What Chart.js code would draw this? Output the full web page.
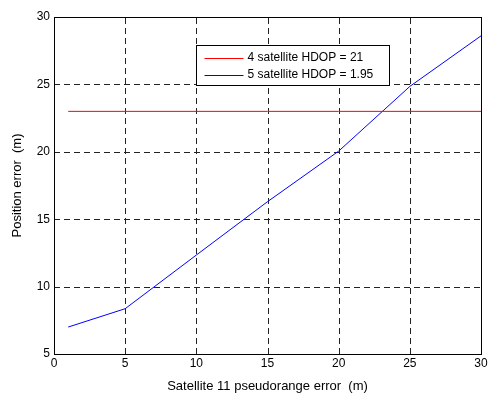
<!DOCTYPE html>
<html>
<head>
<meta charset="utf-8">
<script src="https://cdn.jsdelivr.net/npm/chart.js@4/dist/chart.umd.min.js"></script>
<style>
  html, body { margin: 0; padding: 0; background: #fff; }
  #wrap { width: 491px; height: 394px; position: relative; }
</style>
</head>
<body>
<div id="wrap"><canvas id="c" width="491" height="394"></canvas></div>
<script>
const pseudorangeError = [1, 5, 10, 15, 20, 25, 30];
const fourSatError = [23, 23, 23, 23, 23, 23, 23];
const fiveSatError = [7.0, 8.36, 12.34, 16.3, 20.05, 24.85, 28.6];
const seriesLabels = ['4 satellite HDOP = 21', '5 satellite HDOP = 1.95'];
const seriesColors = ['#ff0000', '#0000ff'];
const xTicks = [0, 5, 10, 15, 20, 25, 30];
const yTicks = [5, 10, 15, 20, 25, 30];

const FONT = 'Liberation Sans, Arial, sans-serif';

const toPts = (xs, ys) => xs.map((x, i) => ({ x: x, y: ys[i] }));

const gridPlugin = {
  id: 'dashGrid',
  beforeDatasetsDraw(chart) {
    const { ctx, chartArea: a, scales } = chart;
    ctx.save();
    ctx.strokeStyle = '#222';
    ctx.lineWidth = 1;
    ctx.setLineDash([6, 4]);
    xTicks.forEach(v => {
      const px = Math.round(scales.x.getPixelForValue(v)) + 0.5;
      ctx.beginPath(); ctx.moveTo(px, a.bottom); ctx.lineTo(px, a.top); ctx.stroke();
    });
    yTicks.forEach(v => {
      const py = Math.round(scales.y.getPixelForValue(v)) + 0.5;
      ctx.beginPath(); ctx.moveTo(a.left, py); ctx.lineTo(a.right, py); ctx.stroke();
    });
    ctx.restore();
  }
};

const framePlugin = {
  id: 'frame',
  afterDraw(chart) {
    const { ctx, chartArea: a } = chart;
    ctx.save();
    ctx.strokeStyle = '#000';
    ctx.lineWidth = 1;
    ctx.setLineDash([]);
    ctx.strokeRect(Math.round(a.left) + 0.5, Math.round(a.top) + 0.5,
      Math.round(a.right - a.left), Math.round(a.bottom - a.top));
    // legend box
    const bx = 196.5, by = 45.5, bw = 193, bh = 40;
    ctx.fillStyle = '#fff';
    ctx.fillRect(bx, by, bw, bh);
    ctx.strokeRect(bx, by, bw, bh);
    ctx.font = '12px ' + FONT;
    ctx.textBaseline = 'middle';
    chart.data.datasets.forEach((ds, i) => {
      const yy = by + 12 + i * 17;
      ctx.strokeStyle = seriesColors[i];
      ctx.beginPath();
      ctx.moveTo(bx + 8, Math.round(yy) + 0.5);
      ctx.lineTo(bx + 47, Math.round(yy) + 0.5);
      ctx.stroke();
      ctx.fillStyle = '#000';
      ctx.fillText(ds.label, bx + 51, yy);
    });
    ctx.restore();
  }
};

new Chart(document.getElementById('c'), {
  type: 'line',
  data: {
    datasets: [
      { label: seriesLabels[0], data: toPts(pseudorangeError, fourSatError),
        borderColor: seriesColors[0], borderWidth: 1, pointRadius: 0, tension: 0, fill: false },
      { label: seriesLabels[1], data: toPts(pseudorangeError, fiveSatError),
        borderColor: seriesColors[1], borderWidth: 1, pointRadius: 0, tension: 0, fill: false }
    ]
  },
  options: {
    responsive: false,
    animation: false,
    devicePixelRatio: 1,
    layout: { padding: { top: 17, right: 10, left: 10, bottom: 0 } },
    plugins: { legend: { display: false }, tooltip: { enabled: false } },
    scales: {
      x: {
        type: 'linear', min: 0, max: 30,
        afterBuildTicks: s => { s.ticks = xTicks.map(v => ({ value: v })); },
        afterFit: s => { s.height = 40; },
        ticks: { color: '#000', font: { family: FONT, size: 12 }, padding: 2, maxRotation: 0 },
        grid: { display: false, drawTicks: false, tickLength: 0 },
        border: { display: false },
        title: { display: true, text: 'Satellite 11 pseudorange error  (m)', color: '#000',
                 font: { family: FONT, size: 13 }, padding: { top: 4, bottom: 0 } }
      },
      y: {
        type: 'linear', min: 5, max: 30,
        afterBuildTicks: s => { s.ticks = yTicks.map(v => ({ value: v })); },
        afterFit: s => { s.width = 44; },
        ticks: { color: '#000', font: { family: FONT, size: 12 }, padding: 4 },
        grid: { display: false, drawTicks: false, tickLength: 0 },
        border: { display: false },
        title: { display: true, text: 'Position error  (m)', color: '#000',
                 font: { family: FONT, size: 13 }, padding: { top: 0, bottom: 4 } }
      }
    }
  },
  plugins: [gridPlugin, framePlugin]
});
</script>
</body>
</html>
